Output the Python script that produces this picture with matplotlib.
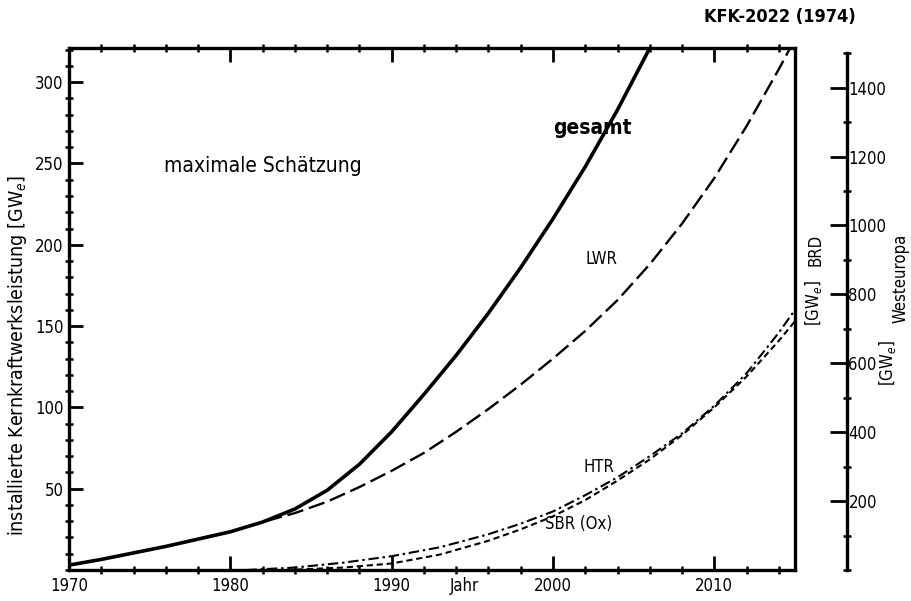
import matplotlib.pyplot as plt
from matplotlib.ticker import MultipleLocator

# installierte Leistung BRD [GWe], maximale Schaetzung
jahr_gesamt = [1970, 1972, 1974, 1976, 1978, 1980, 1982, 1984, 1986, 1988, 1990,
               1992, 1994, 1996, 1998, 2000, 2002, 2004, 2006.0]
gesamt = [3, 6.5, 10.5, 14.5, 19, 23.5, 29.5, 37.5, 49, 65, 85,
          108, 132, 158, 186, 216, 248, 283, 321]

jahr_lwr = [1970, 1972, 1974, 1976, 1978, 1980, 1982, 1984, 1986, 1988, 1990,
            1992, 1994, 1996, 1998, 2000, 2002, 2004, 2006, 2008, 2010, 2012,
            2014, 2014.7]
lwr = [3, 6.5, 10.5, 14.5, 19, 23.5, 29.5, 35, 42, 51, 61,
       72, 85, 99, 114, 130, 147, 166, 188, 213, 241, 273,
       308, 321]

jahr_htr = [1981, 1984, 1987, 1990, 1993, 1996, 1998, 2000, 2002, 2004, 2006,
            2008, 2010, 2012, 2014, 2015]
htr = [0, 1.5, 4.5, 8.5, 14, 22, 28.5, 36, 46, 57, 70, 84, 101, 121, 146, 160]

jahr_sbr = [1983.5, 1987, 1990, 1993, 1996, 1998, 2000, 2002, 2004, 2006, 2008,
            2010, 2012, 2014, 2015]
sbr = [0, 1.5, 4, 9.5, 18, 25, 33, 43, 55, 68, 83, 100, 119, 141, 153]

x_ticks = [1970, 1980, 1990, 2000, 2010]
y_ticks = [50, 100, 150, 200, 250, 300]
we_ticks = [200, 400, 600, 800, 1000, 1200, 1400]

plt.rcParams["font.family"] = ["DejaVu Sans"]
plt.rcParams["font.stretch"] = "condensed"

fig = plt.figure(figsize=(9.11, 6.01), dpi=100)
ax = fig.add_axes([69 / 911, 1 - 570 / 601, (795 - 69) / 911, (570 - 48) / 601])

ax.plot(jahr_gesamt, gesamt, color="black", lw=2.6, solid_capstyle="butt",
        solid_joinstyle="round")
ax.plot(jahr_lwr, lwr, color="black", lw=1.7, dashes=(7, 2.5))
ax.plot(jahr_htr, htr, color="black", lw=1.5, dashes=(5, 1.8, 1.2, 1.8))
ax.plot(jahr_sbr, sbr, color="black", lw=1.5, dashes=(3, 1.8))

ax.set_xlim(1970, 2015)
ax.set_ylim(0, 321)

for side in ["left", "right", "top", "bottom"]:
    ax.spines[side].set_linewidth(2.4)

ax.xaxis.set_major_locator(plt.FixedLocator(x_ticks))
ax.xaxis.set_minor_locator(MultipleLocator(2))
ax.yaxis.set_major_locator(plt.FixedLocator(y_ticks))
ax.yaxis.set_minor_locator(MultipleLocator(10))

ax.tick_params(axis="both", which="major", direction="in", length=10, width=2,
               labelsize=12, top=True, right=True, pad=4)
ax.tick_params(axis="both", which="minor", direction="inout", length=6, width=1.8,
               top=True, right=True)
ax.tick_params(axis="x", which="major", pad=5)

# Westeuropa-Skala rechts daneben (52 px neben der BRD-Achse)
ax2 = ax.twinx()
ax2.set_ylim(0, 1515)
ax2.spines["right"].set_position(("outward", 52 * 72 / 100))
ax2.spines["right"].set_bounds(0, 1500)
ax2.spines["right"].set_linewidth(2.4)
for side in ["left", "top", "bottom"]:
    ax2.spines[side].set_visible(False)
ax2.yaxis.set_major_locator(plt.FixedLocator(we_ticks))
ax2.yaxis.set_minor_locator(MultipleLocator(100))
ax2.tick_params(axis="y", which="major", direction="in", length=12, width=2,
                labelsize=12, pad=1)
ax2.tick_params(axis="y", which="minor", direction="inout", length=6, width=1.8)

ax.text(1975.9, 245, "maximale Schätzung", fontsize=15)
ax.text(2000.0, 268, "gesamt", fontsize=15, fontweight="bold")
ax.text(2002.0, 188, "LWR", fontsize=12)
ax.text(2001.9, 60, "HTR", fontsize=12)
ax.text(1999.5, 25, "SBR (Ox)", fontsize=12)

fig.text(18 / 911, 1 - 355 / 601, "installierte Kernkraftwerksleistung [GW$_e$]",
         rotation=90, ha="center", va="center", fontsize=14)
fig.text(450 / 911, 1 - 586 / 601, "Jahr", ha="left", va="center", fontsize=12)
fig.text(780 / 911, 1 - 17 / 601, "KFK-2022 (1974)", ha="center", va="center",
         fontsize=13, fontweight="bold")
fig.text(815 / 911, 1 - 250 / 601, "BRD", rotation=90, ha="center", va="center",
         fontsize=12)
fig.text(814 / 911, 1 - 303 / 601, "[GW$_e$]", rotation=90, ha="center",
         va="center", fontsize=12)
fig.text(900 / 911, 1 - 278 / 601, "Westeuropa", rotation=90, ha="center",
         va="center", fontsize=12)
fig.text(888 / 911, 1 - 363 / 601, "[GW$_e$]", rotation=90, ha="center",
         va="center", fontsize=12)

fig.savefig("out.png", dpi=100)
